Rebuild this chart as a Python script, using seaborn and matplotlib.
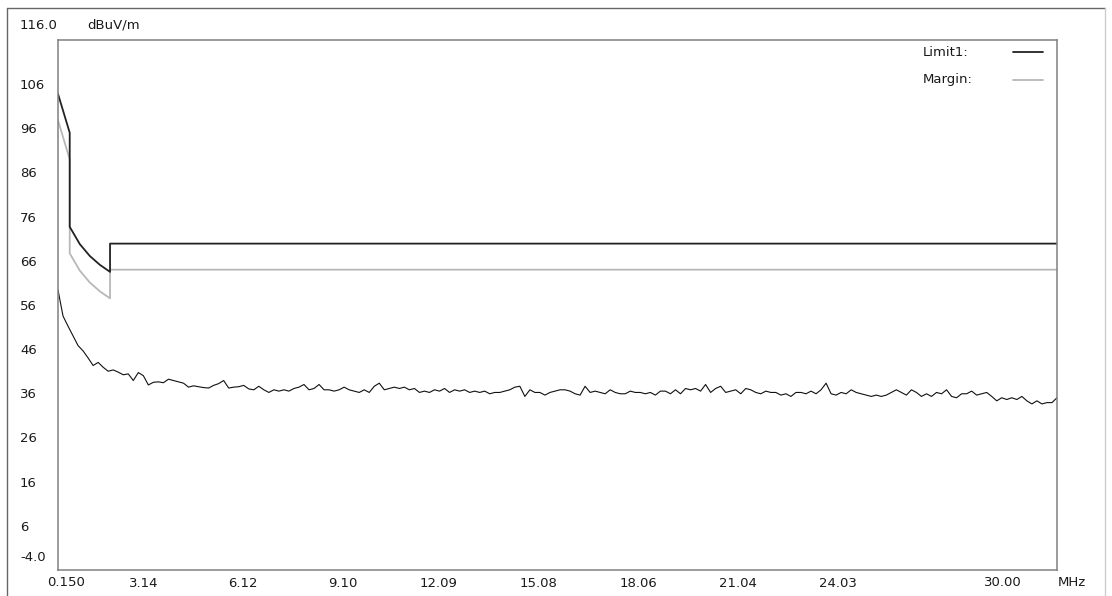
import matplotlib
matplotlib.use("Agg")
import matplotlib.pyplot as plt
from matplotlib.lines import Line2D
import numpy as np
import seaborn as sns

# limit line (dBuV/m) with its steps at 0.5 and 1.705 MHz
limit_mhz = [0.15, 0.5, 0.5, 0.8, 1.1, 1.4, 1.705, 1.705, 30.0]
limit_db = [103.8, 95.0, 73.7, 69.8, 67.1, 65.1, 63.5, 69.9, 69.9]

# margin line, about 6 dB below the limit
margin_mhz = [0.15, 0.5, 0.5, 0.8, 1.1, 1.4, 1.705, 1.705, 30.0]
margin_db = [97.8, 89.0, 67.7, 63.8, 61.1, 59.1, 57.5, 64.0, 64.0]

trace_mhz = np.linspace(0.15, 30.0, 200)
trace_db = [
    59.4, 53.5, 51.2, 49.0, 46.8, 45.6, 44.0, 42.3, 43.0, 41.9,
    41.0, 41.3, 40.8, 40.2, 40.4, 38.9, 40.7, 40.0, 37.9, 38.5,
    38.6, 38.4, 39.2, 38.9, 38.6, 38.3, 37.4, 37.7, 37.5, 37.3,
    37.2, 37.8, 38.2, 38.9, 37.2, 37.4, 37.5, 37.8, 37.0, 36.8,
    37.6, 36.8, 36.2, 36.8, 36.5, 36.8, 36.5, 37.1, 37.4, 38.0,
    36.8, 37.1, 38.0, 36.8, 36.8, 36.5, 36.8, 37.4, 36.8, 36.5,
    36.2, 36.8, 36.2, 37.6, 38.3, 36.8, 37.1, 37.4, 37.1, 37.4,
    36.8, 37.1, 36.2, 36.5, 36.2, 36.8, 36.5, 37.1, 36.2, 36.8,
    36.5, 36.8, 36.2, 36.5, 36.2, 36.5, 35.9, 36.2, 36.2, 36.5,
    36.8, 37.4, 37.6, 35.3, 36.8, 36.2, 36.2, 35.6, 36.2, 36.5,
    36.8, 36.8, 36.5, 35.9, 35.6, 37.6, 36.2, 36.5, 36.2, 35.9,
    36.8, 36.2, 35.9, 35.9, 36.5, 36.2, 36.2, 35.9, 36.2, 35.6,
    36.5, 36.5, 35.9, 36.8, 35.9, 37.1, 36.8, 37.1, 36.5, 38.0,
    36.2, 37.1, 37.6, 36.2, 36.5, 36.8, 35.9, 37.1, 36.8, 36.2,
    35.9, 36.5, 36.2, 36.2, 35.6, 35.9, 35.3, 36.2, 36.2, 35.9,
    36.5, 35.9, 36.8, 38.3, 35.9, 35.6, 36.2, 35.9, 36.8, 36.2,
    35.9, 35.6, 35.3, 35.6, 35.3, 35.6, 36.2, 36.8, 36.2, 35.6,
    36.8, 36.2, 35.3, 35.9, 35.3, 36.2, 35.9, 36.8, 35.3, 35.0,
    35.9, 35.9, 36.5, 35.6, 35.9, 36.2, 35.3, 34.3, 35.0, 34.6,
    35.0, 34.6, 35.3, 34.3, 33.6, 34.3, 33.6, 33.9, 33.9, 35.0,
]

x_ticks = [3.14, 6.12, 9.10, 12.09, 15.08, 18.06, 21.04, 24.03]
x_labels = ["3.14", "6.12", "9.10", "12.09", "15.08", "18.06", "21.04", "24.03"]
y_ticks = [106, 96, 86, 76, 66, 56, 46, 36, 26, 16, 6]

limit_color = "#222222"
margin_color = "#b8b8b8"

sns.set_style("white")
plt.rcParams["font.family"] = ["DejaVu Sans"]
txt = "#1a1a1a"

fig = plt.figure(figsize=(11.12, 5.96), dpi=100)
ax = fig.add_axes([58 / 1112, 26 / 596, 999 / 1112, 530 / 596])

sns.lineplot(x=trace_mhz, y=trace_db, ax=ax, color="#111111", linewidth=0.8,
             estimator=None, sort=False)
sns.lineplot(x=margin_mhz, y=margin_db, ax=ax, color=margin_color, linewidth=1.3,
             estimator=None, sort=False)
sns.lineplot(x=limit_mhz, y=limit_db, ax=ax, color=limit_color, linewidth=1.3,
             estimator=None, sort=False)

ax.set_xlim(0.15, 30.0)
ax.set_ylim(-4, 116)
ax.set_xlabel("")
ax.set_ylabel("")

ax.set_xticks(x_ticks, x_labels)
ax.set_yticks(y_ticks, [str(v) for v in y_ticks])
ax.tick_params(axis="both", length=0, labelsize=9.5, labelcolor=txt)
ax.tick_params(axis="x", pad=5)
ax.tick_params(axis="y", pad=27.4)
for lab in ax.get_xticklabels():
    lab.set_horizontalalignment("right")
for lab in ax.get_yticklabels():
    lab.set_horizontalalignment("left")

for sp in ax.spines.values():
    sp.set_color("#808080")
    sp.set_linewidth(1.1)

# end labels and units drawn beside the axes
ax.text(0.008, -0.0245, "0.150", transform=ax.transAxes, ha="center", va="center",
        fontsize=9.5, color=txt)
ax.text(0.946, -0.0245, "30.00", transform=ax.transAxes, ha="center", va="center",
        fontsize=9.5, color=txt)
ax.text(1.015, -0.0245, "MHz", transform=ax.transAxes, ha="center", va="center",
        fontsize=9.5, color=txt)
ax.text(-0.038, 1.028, "116.0", transform=ax.transAxes, ha="left", va="center",
        fontsize=9.5, color=txt)
ax.text(0.029, 1.028, "dBuV/m", transform=ax.transAxes, ha="left", va="center",
        fontsize=9.5, color=txt)
ax.text(-0.038, 0.0245, "-4.0", transform=ax.transAxes, ha="left", va="center",
        fontsize=9.5, color=txt)

# legend as in the printout: names left-aligned, line sample on the right
for name, color, yy in [("Limit1:", limit_color, 0.977), ("Margin:", margin_color, 0.925)]:
    ax.text(0.866, yy, name, transform=ax.transAxes, ha="left", va="center",
            fontsize=9.5, color=txt)
    ax.add_line(Line2D([0.956, 0.986], [yy, yy], transform=ax.transAxes,
                       color=color, linewidth=1.3))

# outer frame of the printout
fig.add_artist(Line2D([7 / 1112, 7 / 1112], [0, 1 - 8 / 596], color="#666666", linewidth=1.0))
fig.add_artist(Line2D([7 / 1112, 1105 / 1112], [1 - 8 / 596, 1 - 8 / 596], color="#666666", linewidth=1.0))
fig.add_artist(Line2D([1105 / 1112, 1105 / 1112], [0, 1 - 8 / 596], color="#cccccc", linewidth=1.0))

fig.savefig("out.png", dpi=100)
